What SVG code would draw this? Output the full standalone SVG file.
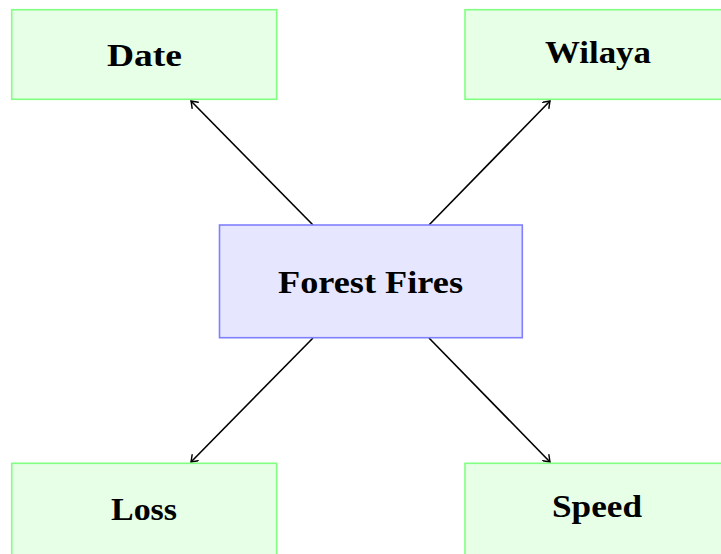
<svg xmlns="http://www.w3.org/2000/svg" width="721" height="554" viewBox="0 0 721 554">
<style>
.leaf rect{fill:#e6ffe6;stroke:#80ff80;stroke-width:1.6}
.main rect{fill:#e6e6ff;stroke:#8080ff;stroke-width:1.6}
text{font-family:"Liberation Serif","Times New Roman",serif;font-weight:bold;font-size:31px;fill:#000;text-anchor:middle}
.edge{stroke:#000;stroke-width:1.6;fill:none;marker-end:url(#arr)}
</style>
<defs>
<marker id="arr" viewBox="-7 -5 9 10" markerWidth="9" markerHeight="10" refX="0" refY="0" orient="auto" markerUnits="userSpaceOnUse">
<path d="M-6,-4.3 Q-1.8,-1.2 0,0 Q-1.8,1.2 -6,4.3" fill="none" stroke="#000" stroke-width="1.4" stroke-linecap="round"/>
</marker>
</defs>
<rect width="721" height="554" fill="#fff"/>
<g id="connectors">
<line class="edge" x1="313" y1="225" x2="191" y2="101"/>
<line class="edge" x1="429" y1="225" x2="550" y2="101"/>
<line class="edge" x1="313" y1="338" x2="191" y2="462"/>
<line class="edge" x1="429" y1="338" x2="550" y2="462"/>
</g>
<g id="date" class="leaf">
<rect x="11.7" y="9.7" width="265" height="89.6"/>
<text x="144.5" y="66" textLength="75" lengthAdjust="spacingAndGlyphs">Date</text>
</g>
<g id="wilaya" class="leaf">
<rect x="465" y="9.7" width="265" height="89.6"/>
<text x="598" y="63" textLength="106" lengthAdjust="spacingAndGlyphs">Wilaya</text>
</g>
<g id="forest-fires" class="main">
<rect x="219.5" y="225" width="302.8" height="112.7"/>
<text x="370.5" y="293" textLength="185" lengthAdjust="spacingAndGlyphs">Forest Fires</text>
</g>
<g id="loss" class="leaf">
<rect x="11.7" y="463.3" width="265" height="100"/>
<text x="144" y="520" textLength="66" lengthAdjust="spacingAndGlyphs">Loss</text>
</g>
<g id="speed" class="leaf">
<rect x="465" y="463.3" width="265" height="100"/>
<text x="597" y="517" textLength="90" lengthAdjust="spacingAndGlyphs">Speed</text>
</g>
</svg>
